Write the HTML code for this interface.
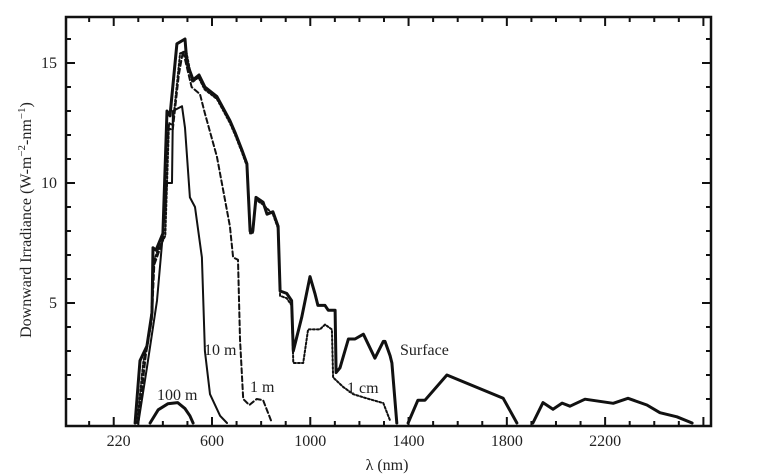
<!DOCTYPE html>
<html><head><meta charset="utf-8">
<style>
html,body{margin:0;padding:0;background:#fff;}
svg{display:block;}
text{font-family:"Liberation Serif",serif;fill:#222;}
</style></head>
<body>
<svg id="chart" width="781" height="474" viewBox="0 0 781 474" xmlns="http://www.w3.org/2000/svg">
<rect x="0" y="0" width="781" height="474" fill="#fff"/>
<g id="plot"></g>
</svg>
<script>
// ---- data (wavelength nm, irradiance W m^-2 nm^-1) ----
const surfaceNm = [287,307,335,356,360,372,400,417,429,457,490,498,523,547,571,620,673,694,721,742,755,766,779,808,824,848,869,877,904,924,931,965,999,1019,1031,1060,1073,1101,1105,1121,1155,1182,1216,1263,1297,1304,1325,1332,1352];
const surfaceVal = [0,2.6,3.2,4.6,7.3,7.2,7.9,13.0,12.8,15.8,16.0,15.0,14.3,14.5,14.0,13.6,12.6,12.1,11.4,10.8,8.0,8.0,9.4,9.2,8.7,8.8,8.2,5.5,5.4,5.1,3.0,4.4,6.1,5.4,4.9,4.9,4.7,4.7,2.1,2.3,3.5,3.5,3.7,2.7,3.4,3.4,2.8,2.5,0];
const surface2Nm = [1398,1438,1467,1556,1785,1841];
const surface2Val = [0,0.95,0.95,2.0,1.03,0];
const surface3Nm = [1906,1947,1988,2025,2057,2118,2233,2293,2370,2423,2492,2554];
const surface3Val = [0,0.85,0.57,0.83,0.7,0.99,0.82,1.03,0.75,0.43,0.26,0];
const cmNm = [295,320,350,365,380,410,425,440,470,495,520,545,570,620,673,694,721,742,755,766,779,808,848,869,877,904,924,931,971,991,1039,1060,1088,1093,1134,1175,1229,1297,1325];
const cmVal = [0,2.5,4.0,6.8,7.2,7.8,12.5,12.4,15.4,15.5,14.2,14.4,13.9,13.5,12.5,12.0,11.3,10.7,7.9,7.9,9.3,9.1,8.7,8.1,5.3,5.2,4.9,2.5,2.5,3.9,3.9,4.1,3.9,1.9,1.5,1.2,1.03,0.83,0.1];
const m1Nm = [300,330,355,365,400,420,440,465,482,517,551,571,620,673,686,706,714,727,752,782,808,844];
const m1Val = [0,2.8,4.3,6.6,7.6,12.3,12.2,14.5,15.5,14.0,13.7,12.9,11.1,8.2,6.9,6.8,3.5,1.0,0.75,1.0,0.95,0];
const m10Nm = [300,335,376,400,417,437,441,478,490,510,531,559,571,592,633,661];
const m10Val = [0,2.3,5.1,7.9,10.0,10.0,13.0,13.2,12.3,9.4,9.0,6.9,3.0,1.2,0.3,0];
const m100Nm = [348,381,420,460,490,510,523];
const m100Val = [0,0.55,0.8,0.85,0.6,0.3,0];
const xTickLabels = ["220","600","1000","1400","1800","2200"];
const xTickNm = [220,600,1000,1400,1800,2200];
const yTickLabels = ["5","10","15"];
const yTickVal = [5,10,15];

// ---- axes ----
const L=66,R=711,T=17,B=426;
const X=nm=>212+(nm-600)*0.2457;
const Y=v=>423-v*24;
const NS="http://www.w3.org/2000/svg";
const g=document.getElementById('plot');
function mk(tag,attrs){const e=document.createElementNS(NS,tag);for(const k in attrs)e.setAttribute(k,attrs[k]);g.appendChild(e);return e;}

function series(nm,val,name,w,dash){
  let d='';
  for(let i=0;i<nm.length;i++){d+=(i?'L':'M')+X(nm[i]).toFixed(1)+','+Y(val[i]).toFixed(1);}
  const p=mk('path',{d:d,fill:'none',stroke:'#111','stroke-width':w,'stroke-linejoin':'round','stroke-linecap':'round'});
  if(dash)p.setAttribute('stroke-dasharray',dash);
  
  
}
series(m100Nm,m100Val,'line-100m',3);
series(m10Nm,m10Val,'line-10m',2);
series(m1Nm,m1Val,'line-1m',2,'5,3');
series(cmNm,cmVal,'line-1cm',2,'2,2');
series(surfaceNm,surfaceVal,'line-surface',3);
series(surface2Nm,surface2Val,'line-surface-1400-1800',3);
series(surface3Nm,surface3Val,'line-surface-1900-2550',3);

// frame
const fr=mk('rect',{x:L,y:T,width:R-L,height:B-T,fill:'none',stroke:'#111','stroke-width':2.5});



// y ticks
for(let v=1;v<=16;v++){
  const len=(v%5===0)?9:5;
  const t1=mk('line',{x1:L,x2:L+len,y1:Y(v),y2:Y(v),stroke:'#111','stroke-width':2});
  
  
  const t2=mk('line',{x1:R,x2:R-len,y1:Y(v),y2:Y(v),stroke:'#111','stroke-width':2});
  
  
}
yTickVal.forEach((v,i)=>{
  const t=mk('text',{x:L-9,y:Y(v)+5,'text-anchor':'end','font-size':16});
  t.textContent=yTickLabels[i];
  
  
});
// x ticks
for(let nm=100;nm<=2600;nm+=100){
  const len=(nm%400===200)?9:5;
  const t1=mk('line',{x1:X(nm),x2:X(nm),y1:B,y2:B-len,stroke:'#111','stroke-width':2});
  
  
  const t2=mk('line',{x1:X(nm),x2:X(nm),y1:T,y2:T+len,stroke:'#111','stroke-width':2});
  
  
}
xTickNm.forEach((nm,i)=>{
  const t=mk('text',{x:X(nm),y:446,'text-anchor':'middle','font-size':16});
  t.textContent=xTickLabels[i];
  
  
});
</script>
<svg style="position:absolute;left:0;top:0" width="781" height="474">
<text x="387" y="470" text-anchor="middle" font-size="16">λ (nm)</text>
<text transform="translate(31,220) rotate(-90)" text-anchor="middle" font-size="16">Downward Irradiance (W-m<tspan dy="-6" font-size="11">−2</tspan><tspan dy="6">-nm</tspan><tspan dy="-6" font-size="11">−1</tspan><tspan dy="6">)</tspan></text>
<text x="204" y="355" font-size="16">10 m</text>
<text x="250" y="392" font-size="16">1 m</text>
<text x="157" y="400" font-size="16">100 m</text>
<text x="347" y="393" font-size="16">1 cm</text>
<text x="400" y="355" font-size="16">Surface</text>
</svg>
</body></html>
